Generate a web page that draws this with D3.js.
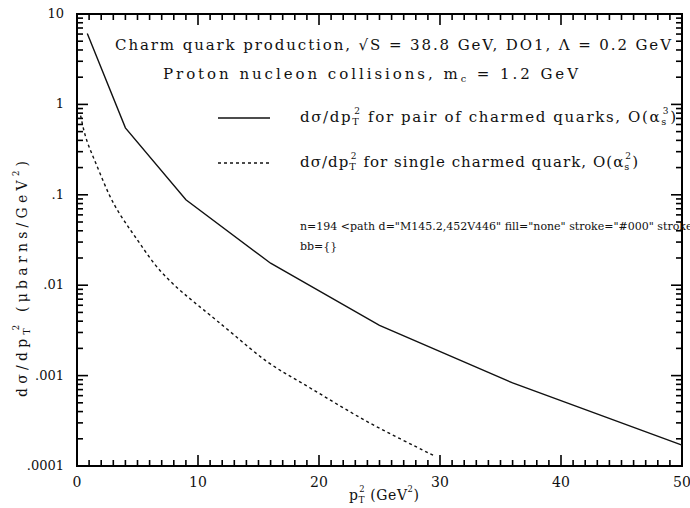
<!DOCTYPE html>
<html>
<head>
<meta charset="utf-8">
<script src="https://cdn.jsdelivr.net/npm/d3@7"></script>
<style>
  body { margin: 0; background: #fff; }
  text { font-family: "DejaVu Serif", serif; fill: #111; }
</style>
</head>
<body>
<div id="chart"></div>
<script>
// pair of charmed quarks, O(as^3)
const pairX = [0.85, 4, 9, 16, 25, 36, 50];
const pairY = [6.1, 0.55, 0.088, 0.0175, 0.0036, 0.00083, 0.00017];

// single charmed quark, O(as^2)
const singleX = [0.3, 0.66, 1.2, 1.9, 2.7, 3.55, 4.4, 5.2, 6.3, 7.7, 9.1, 10.2, 12.9, 15.7, 18.4, 21.2, 23.9, 26.7, 29.5];
const singleY = [0.75, 0.44, 0.29, 0.173, 0.095, 0.06, 0.041, 0.029, 0.0175, 0.0109, 0.0075, 0.0057, 0.0029, 0.00137, 0.00086, 0.00051, 0.00031, 0.0002, 0.00013];

const xTicks = [0, 10, 20, 30, 40, 50];
const yTicks = [10, 1, 0.1, 0.01, 0.001, 0.0001];
const yTickLabels = ['10', '1', '.1', '.01', '.001', '.0001'];

const width = 690;
const height = 508;
const margin = { top: 14, right: 8, bottom: 42, left: 77 };
const iw = width - margin.left - margin.right;
const ih = height - margin.top - margin.bottom;

const svg = d3.select('#chart').append('svg')
    .attr('width', width)
    .attr('height', height);

const g = svg.append('g')
    .attr('transform', `translate(${margin.left},${margin.top})`);

const x = d3.scaleLinear().domain([0, 50]).range([0, iw]);
const y = d3.scaleLog().domain([0.0001, 10]).range([ih, 0]);

// ticks, all pointing inward, on all four sides
const xAll = d3.range(0, 51);
const yAll = y.ticks();
const isMajorY = d => yTicks.some(t => Math.abs(t - d) / t < 1e-6);

const tickG = g.append('g').attr('class', 'ticks');

tickG.selectAll(null).data(xAll).enter().append('path')
    .attr('d', d => `M${x(d)},${ih}V${ih - (d % 10 === 0 ? 11 : 6)}`);
tickG.selectAll(null).data(xAll).enter().append('path')
    .attr('d', d => `M${x(d)},0V${d % 10 === 0 ? 11 : 6}`);
tickG.selectAll(null).data(yAll).enter().append('path')
    .attr('d', d => `M0,${y(d)}H${isMajorY(d) ? 11 : 6}`);
tickG.selectAll(null).data(yAll).enter().append('path')
    .attr('d', d => `M${iw},${y(d)}H${iw - (isMajorY(d) ? 11 : 6)}`);
tickG.selectAll('path')
    .attr('fill', 'none')
    .attr('stroke', '#000')
    .attr('stroke-width', 1.6);

g.append('rect')
    .attr('width', iw)
    .attr('height', ih)
    .attr('fill', 'none')
    .attr('stroke', '#000')
    .attr('stroke-width', 2);

// tick labels
g.selectAll('.xl').data(xTicks).enter().append('text')
    .attr('x', d => x(d))
    .attr('y', ih + 21)
    .attr('text-anchor', 'middle')
    .style('font-size', '14px')
    .text(d => d);

g.selectAll('.yl').data(yTicks).enter().append('text')
    .attr('x', -13)
    .attr('y', d => y(d) + 4)
    .attr('text-anchor', 'end')
    .style('font-size', '13px')
    .text((d, i) => yTickLabels[i]);

// curves
g.append('path')
    .datum(d3.zip(pairX, pairY))
    .attr('d', d3.line().x(d => x(d[0])).y(d => y(d[1])))
    .attr('fill', 'none')
    .attr('stroke', '#111')
    .attr('stroke-width', 1.4);

g.append('path')
    .datum(d3.zip(singleX, singleY))
    .attr('d', d3.line().x(d => x(d[0])).y(d => y(d[1])).curve(d3.curveBasis))
    .attr('fill', 'none')
    .attr('stroke', '#111')
    .attr('stroke-width', 1.4)
    .attr('stroke-dasharray', '3,3');

// text with the stacked sub/superscript the old plot uses
function rich(parent, parts, px, py, size, len) {
    const t = parent.append('text')
        .attr('x', px)
        .attr('y', py)
        .style('font-size', size + 'px');
    let shift = 0;
    parts.forEach(p => {
        if (typeof p === 'string') {
            t.append('tspan').attr('dy', -shift).text(p);
            shift = 0;
        } else if (p[0] === 'sub') {
            t.append('tspan').attr('dy', 3 - shift).style('font-size', (size * 0.65) + 'px').text(p[1]);
            shift = 3;
        } else if (p[0] === 'sup') {
            t.append('tspan').attr('dx', p[2] || 0).attr('dy', -8 - shift)
                .style('font-size', (size * 0.6) + 'px').text(p[1]);
            shift = -8;
        }
    });
    if (len) t.attr('textLength', len).attr('lengthAdjust', 'spacing');
    return t;
}

rich(svg, ['Charm quark production, √S = 38.8 GeV, DO1, Λ = 0.2 GeV'], 115, 50, 15, 556);
rich(svg, ['Proton nucleon collisions, m', ['sub', 'c'], ' = 1.2 GeV'], 163, 79, 15, 415);

// legend
const legendY = [118, 163];
svg.append('line')
    .attr('x1', 218).attr('x2', 270)
    .attr('y1', legendY[0]).attr('y2', legendY[0])
    .attr('stroke', '#111').attr('stroke-width', 1.4);
svg.append('line')
    .attr('x1', 218).attr('x2', 270)
    .attr('y1', legendY[1]).attr('y2', legendY[1])
    .attr('stroke', '#111').attr('stroke-width', 1.4)
    .attr('stroke-dasharray', '3,3');

rich(svg, ['dσ/dp', ['sub', 'T'], ['sup', '2', -6], ' for pair of charmed quarks, O(α', ['sub', 's'], ['sup', '3', -5], ')'],
    300, legendY[0] + 4, 15, 376);
rich(svg, ['dσ/dp', ['sub', 'T'], ['sup', '2', -6], ' for single charmed quark, O(α', ['sub', 's'], ['sup', '2', -5], ')'],
    300, legendY[1] + 4, 15, 338);

// axis titles
rich(svg, ['p', ['sub', 'T'], ['sup', '2', -6], ' (GeV', ['sup', '2'], ')'], 349, 500, 14, 70);

const yt = svg.append('g').attr('transform', 'translate(27,397) rotate(-90)');
rich(yt, ['dσ/dp', ['sub', 'T'], ['sup', '2', -6], ' (μbarns/GeV', ['sup', '2'], ')'], 0, 0, 14, 236);

// debug
const tp = tickG.selectAll('path').nodes();
svg.append('text').attr('x', 300).attr('y', 230).style('font-size', '11px')
    .text('n=' + tp.length + ' ' + (tp[12] ? tp[12].outerHTML : '-'));
svg.append('text').attr('x', 300).attr('y', 250).style('font-size', '11px')
    .text('bb=' + JSON.stringify(tickG.node().getBBox()));
</script>
</body>
</html>
